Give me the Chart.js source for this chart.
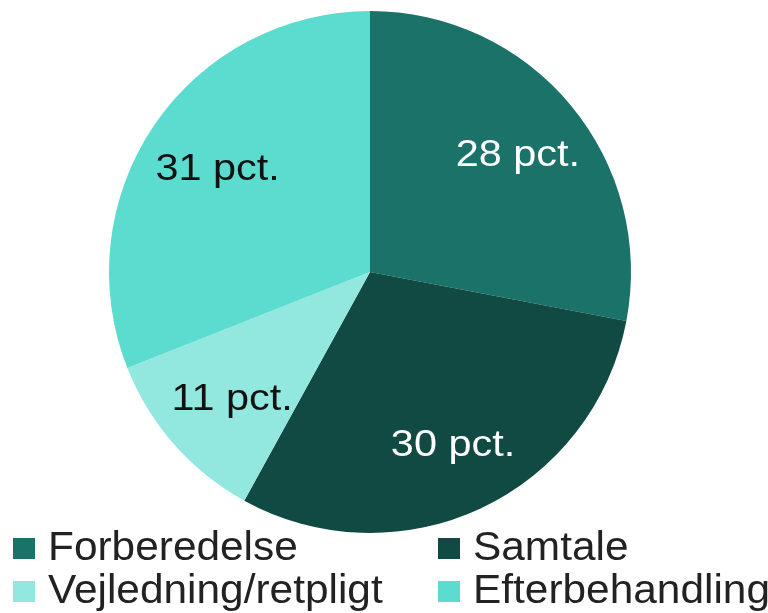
<!DOCTYPE html>
<html>
<head>
<meta charset="utf-8">
<script src="https://cdn.jsdelivr.net/npm/chart.js@4.4.1/dist/chart.umd.min.js"></script>
<style>
    html, body { margin: 0; padding: 0; background: #ffffff; }
    #wrap { width: 768px; height: 613px; }
</style>
</head>
<body>
<div id="wrap"><canvas id="pieChart" width="768" height="613"></canvas></div>
<script>

// ======================================
// Data
// ======================================

const categories = [
    "Forberedelse",
    "Samtale",
    "Vejledning/retpligt",
    "Efterbehandling"
];

const shares = [28, 30, 11, 31];

const sliceColors = [
    "#1a7268",
    "#114a42",
    "#92e8df",
    "#5cdbcf"
];

const labelColors = [
    "#ffffff",
    "#ffffff",
    "#111111",
    "#111111"
];

const fontFamily = "'Liberation Sans', Arial, sans-serif";

// ======================================
// Slice labels
// ======================================

const sliceLabels = {

    id: "sliceLabels",

    afterDatasetsDraw(chart) {

        const ctx = chart.ctx;
        const meta = chart.getDatasetMeta(0);

        ctx.save();
        ctx.font = "36px " + fontFamily;
        ctx.textAlign = "center";
        ctx.textBaseline = "middle";

        meta.data.forEach((arc, i) => {

            const mid = (arc.startAngle + arc.endAngle) / 2;
            const r = arc.outerRadius * 0.72;
            const x = arc.x + Math.cos(mid) * r;
            const y = arc.y + Math.sin(mid) * r;

            ctx.save();
            ctx.translate(x + 3, y + 4);
            ctx.scale(1.15, 1);
            ctx.fillStyle = labelColors[i];
            ctx.fillText(shares[i] + " pct.", 0, 0);
            ctx.restore();

        });

        ctx.restore();

    }

};

// ======================================
// Legend (two columns)
// ======================================

const gridLegend = {

    id: "gridLegend",

    afterDraw(chart) {

        const ctx = chart.ctx;
        const colX = [13, 438];
        const rowY = [548, 591];

        ctx.save();
        ctx.font = "40px " + fontFamily;
        ctx.textAlign = "left";
        ctx.textBaseline = "middle";

        categories.forEach((name, i) => {

            const x = colX[i % 2];
            const y = rowY[Math.floor(i / 2)];

            ctx.fillStyle = sliceColors[i];
            ctx.fillRect(x, y - 10, 22, 21);

            ctx.save();
            ctx.translate(x + 35, y + 1);
            ctx.scale(1.06, 1);
            ctx.fillStyle = "#222222";
            ctx.fillText(name, 0, 0);
            ctx.restore();

        });

        ctx.restore();

    }

};

// ======================================
// Chart
// ======================================

new Chart(document.getElementById("pieChart"), {

    type: "pie",

    data: {

        labels: categories,

        datasets: [{

            data: shares,

            backgroundColor: sliceColors,

            borderWidth: 0

        }]

    },

    options: {

        responsive: false,

        animation: false,

        layout: {

            padding: {
                top: 11,
                bottom: 80,
                left: 109,
                right: 137
            }

        },

        plugins: {

            legend: {
                display: false
            },

            tooltip: {
                enabled: false
            }

        }

    },

    plugins: [sliceLabels, gridLegend]

});

</script>
</body>
</html>
